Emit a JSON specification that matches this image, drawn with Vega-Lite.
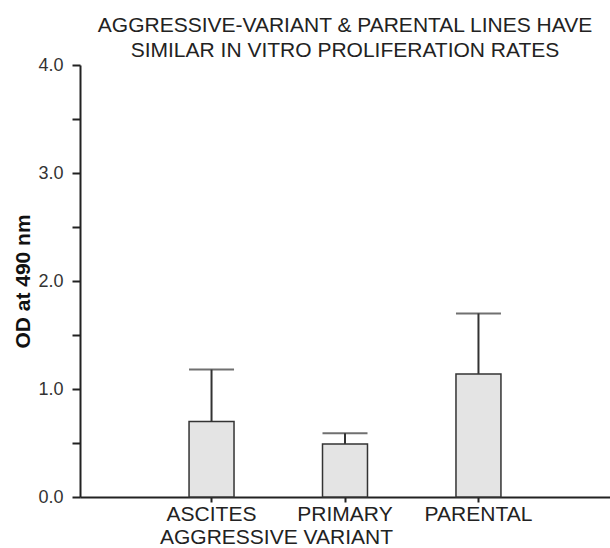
{
  "$schema": "https://vega.github.io/schema/vega-lite/v6.json",
  "autosize": {"type": "none"},
  "padding": {"left": 80, "top": 65, "right": 0, "bottom": 51},
  "width": 530,
  "height": 432,
  "background": "white",
  "title": {
    "text": ["AGGRESSIVE-VARIANT & PARENTAL LINES HAVE", "SIMILAR IN VITRO PROLIFERATION RATES"],
    "anchor": "middle",
    "font": "Liberation Sans",
    "fontSize": 21,
    "fontWeight": "normal",
    "color": "#222222",
    "lineHeight": 25,
    "baseline": "alphabetic",
    "offset": -22
  },
  "data": {
    "values": [
      {"line": "ASCITES", "od": 0.70, "upper": 1.18},
      {"line": "PRIMARY", "od": 0.49, "upper": 0.59},
      {"line": "PARENTAL", "od": 1.14, "upper": 1.70}
    ]
  },
  "config": {
    "view": {"stroke": null},
    "font": "Liberation Sans",
    "axis": {"grid": false}
  },
  "encoding": {
    "x": {
      "field": "line",
      "type": "nominal",
      "sort": ["ASCITES", "PRIMARY", "PARENTAL"],
      "scale": {"paddingInner": 0.663, "paddingOuter": 0.817},
      "axis": {
        "title": "AGGRESSIVE VARIANT",
        "titleFont": "Liberation Sans",
        "titleFontSize": 21,
        "titleFontWeight": "normal",
        "titleColor": "#222222",
        "titleX": 196,
        "titleY": 46,
        "titleAlign": "center",
        "titleBaseline": "alphabetic",
        "labelAngle": 0,
        "labelFont": "Liberation Sans",
        "labelFontSize": 21,
        "labelColor": "#222222",
        "labelPadding": 1,
        "tickSize": 5,
        "tickColor": "#222222",
        "tickWidth": 2,
        "domainColor": "#222222",
        "domainWidth": 2
      }
    }
  },
  "layer": [
    {
      "mark": {"type": "bar", "fill": "#e4e4e4", "stroke": "#333333", "strokeWidth": 1.5},
      "encoding": {
        "y": {
          "field": "od",
          "type": "quantitative",
          "scale": {"domain": [0, 4], "nice": false},
          "axis": {
            "title": "OD at 490 nm",
            "titleFont": "Liberation Sans",
            "titleFontSize": 21,
            "titleFontWeight": "bold",
            "titleColor": "#111111",
            "titlePadding": 4,
            "values": [0, 0.25, 0.5, 0.75, 1, 1.25, 1.5, 1.75, 2, 2.25, 2.5, 2.75, 3, 3.25, 3.5, 3.75, 4],
            "labelExpr": "datum.value % 1 == 0 ? format(datum.value, '.1f') : ''",
            "labelFont": "Liberation Sans",
            "labelFontSize": 18,
            "labelColor": "#333333",
            "labelPadding": 9,
            "tickSize": 8,
            "tickColor": "#222222",
            "tickWidth": 2,
            "domainColor": "#222222",
            "domainWidth": 2
          }
        }
      }
    },
    {
      "mark": {"type": "rule", "stroke": "#333333", "strokeWidth": 2},
      "encoding": {
        "y": {"field": "od", "type": "quantitative"},
        "y2": {"field": "upper"}
      }
    },
    {
      "mark": {"type": "tick", "color": "#333333", "size": 45, "thickness": 2},
      "encoding": {
        "y": {"field": "upper", "type": "quantitative"}
      }
    }
  ]
}
